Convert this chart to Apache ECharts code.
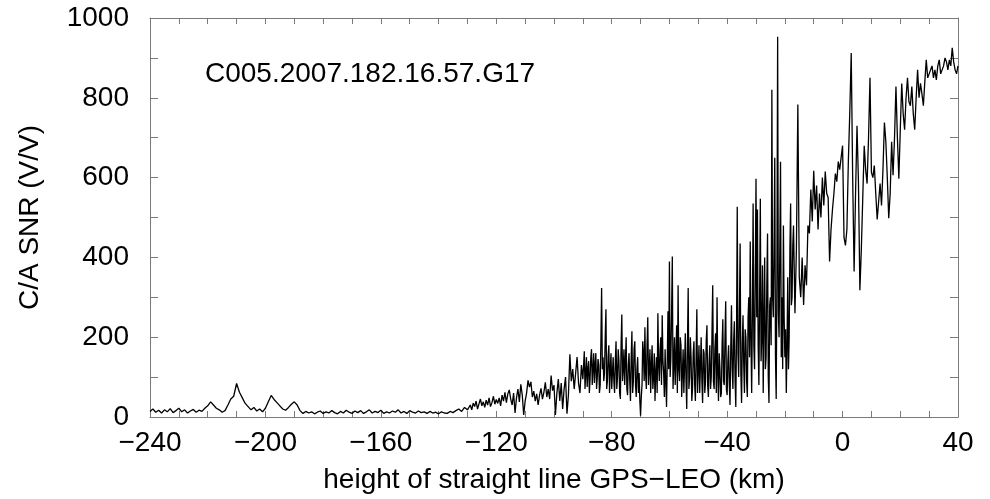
<!DOCTYPE html>
<html>
<head>
<meta charset="utf-8">
<script src="https://cdn.jsdelivr.net/npm/echarts@6/dist/echarts.min.js"></script>
<style>html,body{margin:0;padding:0;background:#fff}#c{width:990px;height:499px}</style>
</head>
<body>
<div id="c"></div>
<script>
// ---- data ----
var xTicks = [-240, -200, -160, -120, -80, -40, 0, 40];
var yTicks = [0, 200, 400, 600, 800, 1000];
var xTitle = 'height of straight line GPS\u2212LEO (km)';
var yTitle = 'C/A SNR (V/V)';
var label = 'C005.2007.182.16.57.G17';

// part 1: heights -240 .. -130 km, 1 km sampling
var flatStart = -240, flatStep = 1;
var snrFlat = [
  14, 20, 12, 17, 10, 18, 13, 21, 11, 16,
  22, 13, 18, 10, 15, 19, 12, 17, 14, 22,
  28, 38, 30, 22, 18, 12, 16, 30, 45, 52,
  84, 62, 48, 34, 26, 18, 24, 15, 20, 13,
  22, 38, 54, 44, 36, 28, 20, 17, 24, 32,
  38, 30, 16, 9, 14, 10, 13, 8, 12, 15,
  9, 13, 10, 16, 11, 8, 14, 10, 17, 12,
  9, 15, 11, 16, 9, 13, 18, 10, 14, 11,
  17, 9, 13, 10, 15, 12, 18, 10, 14, 9,
  16, 12, 10, 15, 11, 13, 9, 14, 10, 12,
  8, 13, 10, 9, 14, 11, 16, 20, 14, 24,
  18
];
// part 2: heights -129.5 .. -90 km, 0.5 km sampling
var riseStart = -129.5, riseStep = 0.5;
var snrRise = [
  22, 30, 18, 35, 26, 40, 20, 33, 45, 28, 38, 24, 42, 30, 48, 26, 36, 52, 32, 44,
  34, 48, 28, 55, 40, 62, 36, 58, 68, 45, 30, 60, 10, 48, 70, 38, 82, 55, 5, 40,
  60, 92, 75, 88, 50, 65, 40, 58, 30, 55, 72, 45, 62, 87, 50, 70, 45, 104, 66, 80,
  5, 60, 95, 40, 85, 20, 70, 100, 8, 55, 157, 90, 120, 70, 110, 150, 85, 60, 130, 95
];
// part 3: heights -89.75 .. -17 km, 0.25 km sampling (strongly fluctuating zone)
var denseStart = -89.75, denseStep = 0.25;
var snrDense = [
  90, 165, 70, 110, 150, 75, 120, 140, 60, 95, 150, 170, 80, 120, 160, 85, 130, 160, 70, 100,
  145, 130, 60, 80, 190, 323, 120, 150, 90, 110, 200, 270, 70, 90, 150, 180, 60, 120, 160, 70,
  110, 150, 90, 60, 140, 190, 70, 100, 170, 140, 60, 45, 180, 257, 90, 120, 170, 80, 140, 200,
  70, 55, 130, 160, 90, 40, 150, 215, 60, 90, 170, 190, 80, 50, 120, 150, 60, 110, 40, 3,
  50, 80, 190, 160, 90, 225, 110, 70, 180, 250, 80, 120, 170, 60, 130, 180, 70, 100, 160, 40,
  110, 150, 60, 260, 130, 90, 170, 200, 80, 255, 140, 110, 50, 170, 90, 25, 140, 265, 120, 390,
  100, 150, 260, 402, 70, 130, 200, 80, 150, 230, 60, 330, 120, 90, 200, 180, 50, 110, 170, 60,
  130, 210, 90, 20, 180, 323, 70, 100, 200, 150, 40, 70, 160, 190, 80, 40, 150, 270, 60, 120,
  180, 60, 130, 200, 90, 35, 170, 160, 60, 90, 190, 230, 80, 50, 140, 180, 70, 100, 210, 330,
  90, 70, 170, 210, 60, 300, 110, 40, 160, 120, 50, 60, 180, 245, 90, 80, 200, 290, 70, 55,
  140, 180, 80, 30, 170, 280, 120, 70, 190, 240, 90, 25, 210, 527, 160, 100, 250, 435, 110, 35,
  180, 255, 130, 60, 220, 200, 90, 50, 250, 300, 150, 440, 200, 60, 260, 535, 180, 120, 350, 597,
  250, 520, 180, 80, 300, 547, 140, 200, 380, 60, 250, 400, 120, 150, 330, 460, 100, 35, 280, 300,
  180, 820, 300, 250, 420, 650, 150, 45, 350, 953, 260, 200, 420, 640, 150, 300, 120, 480, 250, 150,
  220, 60, 180, 350, 120, 200, 420, 535, 280, 300, 430, 480
];
// part 4: heights -16.5 .. 40 km, 0.5 km sampling
var upperStart = -16.5, upperStep = 0.5;
var snrUpper = [
  260, 420, 783, 350, 300, 400, 281, 380, 330, 480, 460, 570, 490, 617,
  520, 580, 470, 560, 500, 600, 530, 615, 560, 550, 390, 470, 520, 560, 610, 590, 640, 620, 650, 680,
  450, 430, 470, 640, 763, 912, 600, 365, 560, 730, 590, 318, 420, 550, 680, 620, 585, 700, 850, 613,
  600, 630, 560, 495, 540, 585, 530, 620, 738, 690, 600, 498, 560, 690, 606, 700, 828, 700, 597, 720,
  836, 760, 720, 800, 850, 790, 780, 828, 760, 720, 800, 870, 800, 836, 810, 780, 840, 895, 850, 845,
  870, 880, 850, 870, 845, 880, 895, 860, 855, 880, 900, 890, 870, 895, 880, 925, 890, 870, 860, 880
];

// ---- build series points ----
var pts = [];
function addPart(start, step, arr) {
  arr.forEach(function (v, i) { pts.push([start + i * step, v]); });
}
addPart(flatStart, flatStep, snrFlat);
addPart(riseStart, riseStep, snrRise);
addPart(denseStart, denseStep, snrDense);
addPart(upperStart, upperStep, snrUpper);

var FONT = 'Liberation Sans, Arial, Helvetica, sans-serif';
var AX = '#7a7a7a';
function fmtX(v) { return String(v).replace('-', '\u2212'); }
function fmtY(v) { return String(v); }

var chart = echarts.init(document.getElementById('c'), null, {renderer: 'canvas'});
var baseX = {
  type: 'value', min: xTicks[0], max: xTicks[xTicks.length - 1], interval: 40,
  axisLine: {show: true, onZero: false, lineStyle: {color: AX, width: 1}},
  axisTick: {show: true, inside: true, length: 6, lineStyle: {color: AX}},
  minorTick: {show: true, splitNumber: 4, length: 6, lineStyle: {color: AX}},
  splitLine: {show: false}, minorSplitLine: {show: false}
};
var baseY = {
  type: 'value', min: yTicks[0], max: yTicks[yTicks.length - 1], interval: 200,
  axisLine: {show: true, onZero: false, lineStyle: {color: AX, width: 1}},
  axisTick: {show: true, inside: true, length: 8, lineStyle: {color: AX}},
  minorTick: {show: true, splitNumber: 2, length: 8, lineStyle: {color: AX}},
  splitLine: {show: false}, minorSplitLine: {show: false}
};
chart.setOption({
  animation: false,
  backgroundColor: '#fff',
  grid: {left: 150, right: 32, top: 18, bottom: 79, containLabel: false},
  xAxis: [
    Object.assign({}, baseX, {
      position: 'bottom',
      axisLabel: {show: true, color: '#000', fontSize: 28, fontFamily: FONT, margin: 12, formatter: fmtX},
      name: xTitle, nameLocation: 'middle', nameGap: 49,
      nameTextStyle: {color: '#000', fontSize: 28, fontFamily: FONT}
    }),
    Object.assign({}, baseX, {position: 'top', axisLabel: {show: false}})
  ],
  yAxis: [
    Object.assign({}, baseY, {
      position: 'left',
      axisLabel: {show: true, color: '#000', fontSize: 28, fontFamily: FONT, margin: 21, formatter: fmtY},
      name: yTitle, nameLocation: 'middle', nameGap: 106, nameRotate: 90,
      nameTextStyle: {color: '#000', fontSize: 28, fontFamily: FONT}
    }),
    Object.assign({}, baseY, {position: 'right', axisLabel: {show: false}})
  ],
  graphic: [{
    type: 'text', left: 205, top: 60,
    style: {text: label, fill: '#000', fontSize: 28, fontFamily: FONT}
  }],
  series: [{
    type: 'line', xAxisIndex: 0, yAxisIndex: 0, data: pts,
    showSymbol: false, symbol: 'none', clip: true,
    lineStyle: {color: '#000', width: 1.3},
    emphasis: {disabled: true}
  }]
});
</script>
</body>
</html>
